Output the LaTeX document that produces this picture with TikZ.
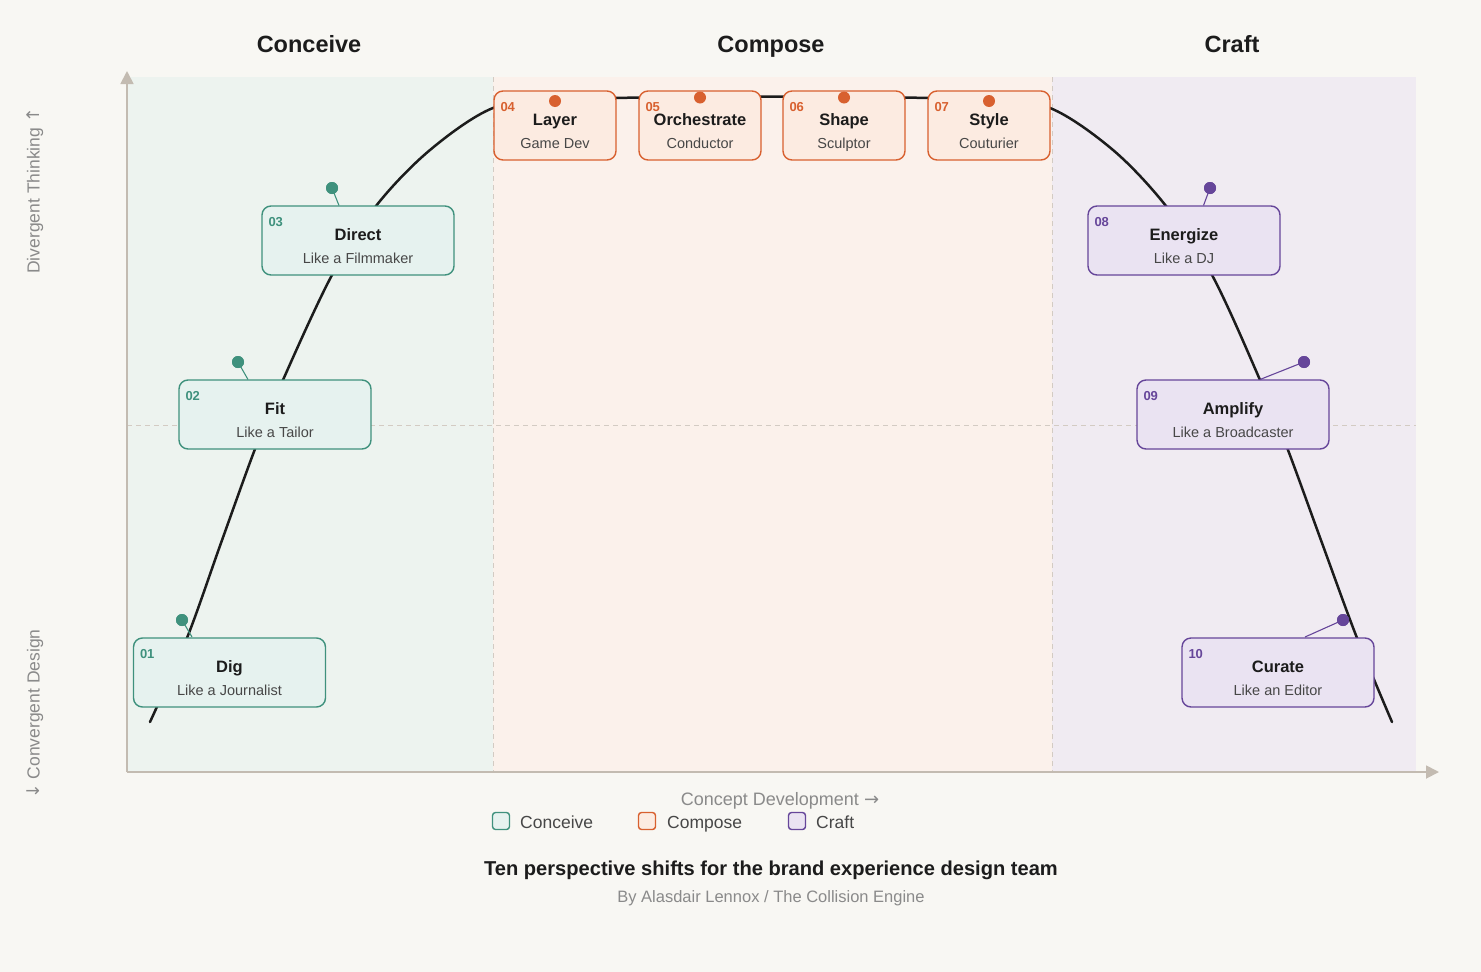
\documentclass[tikz,border=0pt]{standalone}
\usepackage{fontspec}
\setmainfont{Liberation Sans}
\newfontfamily\symfont{DejaVu Sans}
\usetikzlibrary{calc,arrows.meta}

\definecolor{bg}{HTML}{F8F7F3}
\definecolor{bandA}{HTML}{EDF3EF}
\definecolor{bandB}{HTML}{FBF1EB}
\definecolor{bandC}{HTML}{F0EBF2}
\definecolor{cA}{HTML}{3F917D}
\definecolor{cB}{HTML}{D8602F}
\definecolor{cC}{HTML}{66469A}
\definecolor{fA}{HTML}{E6F2EF}
\definecolor{fB}{HTML}{FCEBE1}
\definecolor{fC}{HTML}{EAE3F2}
\definecolor{axisc}{HTML}{C3BBB1}
\definecolor{gridc}{HTML}{D3CBC3}
\definecolor{ink}{HTML}{1C1C1C}
\definecolor{subc}{HTML}{474747}
\definecolor{muted}{HTML}{8A8A8A}

\newcommand\fs[1]{\fontsize{#1}{#1}\selectfont}

\tikzset{
  pbox/.style={draw=c#1, fill=f#1, rounded corners=9pt, line width=1.4pt,
    minimum height=69pt, inner sep=0pt},
  ptitle/.style={anchor=base, inner sep=0pt, text=ink, font=\fs{16.5}\bfseries},
  psub/.style={anchor=base, inner sep=0pt, text=subc, font=\fs{14.5}},
  pnum/.style={anchor=base west, inner sep=0pt, text=c#1, font=\fs{13}\bfseries},
  pdot/.style={circle, fill=c#1, minimum size=12pt, inner sep=0pt},
  pstem/.style={draw=c#1, line width=1.1pt},
  header/.style={anchor=base, inner sep=0pt, text=ink, font=\fs{23.5}\bfseries},
  axlabel/.style={inner sep=0pt, text=muted, font=\fs{17.5}},
  legbox/.style={draw=c#1, fill=f#1, rounded corners=3pt, line width=1.4pt,
    minimum size=17pt, inner sep=0pt},
  legtext/.style={anchor=base west, inner sep=0pt, text=subc, font=\fs{17.5}},
  griddash/.style={draw=gridc, line width=1pt, dash pattern=on 5pt off 4pt},
  axisline/.style={draw=axisc, line width=1.8pt},
  curveline/.style={draw=ink, line width=2.5pt, line cap=round}
}

% #1 id, #2 x, #3 y, #4 width, #5 family, #6 number, #7 title, #8 subtitle
\newcommand\persp[8]{%
  \node[pbox=#5, minimum width=#4pt] (b#1) at (#2,#3) {};
  \node[ptitle] (t#1) at ($(b#1.center)+(0,0)$) {#7};
  \node[psub] (s#1) at ($(b#1.center)+(0,22.5)$) {#8};
  \node[pnum=#5] (n#1) at ($(b#1.north west)+(7,21.5)$) {#6};
}

\begin{document}
\begin{tikzpicture}[x=1pt,y=-1pt]
\useasboundingbox[fill=bg] (0,0) rectangle (1481,972);

% bands
\fill[bandA] (127,77) rectangle (493,772);
\fill[bandB] (493,77) rectangle (1052,772);
\fill[bandC] (1052,77) rectangle (1416,772);

% grid dashes
\draw[griddash] (493,77) -- (493,772);
\draw[griddash] (1052,77) -- (1052,772);
\draw[griddash] (127,425) -- (1416,425);

% axes
\coordinate (origin) at (127,772);
\coordinate (ytip) at (127,71);
\coordinate (xtip) at (1439,772);
\draw[axisline, -{Triangle[length=13pt,width=13pt]}] (origin) -- (ytip);
\draw[axisline, -{Triangle[length=13pt,width=13pt]}] (origin) -- (xtip);

% curve
\draw[curveline] plot[smooth, tension=0.55] coordinates {
  (150,722) (187,638) (221,543) (255,449) (283,380) (332,275) (376,206)
  (430,150) (493,108) (555,101) (616,98) (700,97) (771,96.5) (844,97)
  (928,98) (989,101) (1050,108) (1113,150) (1166,206) (1212,275)
  (1260,380) (1288,450) (1322,543) (1357,638) (1392,722)};

% boxes
\persp{1}{229.5}{672.5}{192}{A}{01}{Dig}{Like a Journalist}
\persp{2}{275}{414.5}{192}{A}{02}{Fit}{Like a Tailor}
\persp{3}{358}{240.5}{192}{A}{03}{Direct}{Like a Filmmaker}
\persp{4}{555}{125.5}{122}{B}{04}{Layer}{Game Dev}
\persp{5}{700}{125.5}{122}{B}{05}{Orchestrate}{Conductor}
\persp{6}{844}{125.5}{122}{B}{06}{Shape}{Sculptor}
\persp{7}{989}{125.5}{122}{B}{07}{Style}{Couturier}
\persp{8}{1184}{240.5}{192}{C}{08}{Energize}{Like a DJ}
\persp{9}{1233}{414.5}{192}{C}{09}{Amplify}{Like a Broadcaster}
\persp{10}{1278}{672.5}{192}{C}{10}{Curate}{Like an Editor}

% dots and stems
\node[pdot=A] (d1) at (182,620) {};
\node[pdot=A] (d2) at (238,362) {};
\node[pdot=A] (d3) at (332,188) {};
\node[pdot=B] (d4) at (555,101) {};
\node[pdot=B] (d5) at (700,97.5) {};
\node[pdot=B] (d6) at (844,97.5) {};
\node[pdot=B] (d7) at (989,101) {};
\node[pdot=C] (d8) at (1210,188) {};
\node[pdot=C] (d9) at (1304,362) {};
\node[pdot=C] (d10) at (1343,620) {};
\coordinate (e1) at (192,637);
\coordinate (e2) at (248,379.5);
\coordinate (e3) at (339,205.5);
\coordinate (e8) at (1203.5,205.5);
\coordinate (e9) at (1260,379.5);
\coordinate (e10) at (1305,637);
\draw[pstem=A] (d1.center) -- (e1);
\draw[pstem=A] (d2.center) -- (e2);
\draw[pstem=A] (d3.center) -- (e3);
\draw[pstem=C] (d8.center) -- (e8);
\draw[pstem=C] (d9.center) -- (e9);
\draw[pstem=C] (d10.center) -- (e10);
\node[pdot=A] at (d1) {};
\node[pdot=A] at (d2) {};
\node[pdot=A] at (d3) {};
\node[pdot=C] at (d8) {};
\node[pdot=C] at (d9) {};
\node[pdot=C] at (d10) {};

% headers
\node[header] (hA) at (309,52.5) {Conceive};
\node[header] (hB) at (771,52.5) {Compose};
\node[header] (hC) at (1232,52.5) {Craft};

% axis labels
\node[axlabel, rotate=90] (ly1) at (35,191) {Divergent Thinking {\symfont ↑}};
\node[axlabel, rotate=90] (ly2) at (35,714) {{\symfont ↓} Convergent Design};
\node[axlabel, anchor=base, font=\fs{18}] (lx) at (780,805) {Concept Development {\symfont →}};

% legend
\node[legbox=A] (kA) at (501,821) {};
\node[legtext] (kAt) at (520,828) {Conceive};
\node[legbox=B] (kB) at (647,821) {};
\node[legtext] (kBt) at (667,828) {Compose};
\node[legbox=C] (kC) at (797,821) {};
\node[legtext] (kCt) at (816,828) {Craft};

% title
\node[anchor=base, inner sep=0pt, text=ink, font=\fs{20.1}\bfseries] (title) at (771,875)
  {Ten perspective shifts for the brand experience design team};
\node[anchor=base, inner sep=0pt, text=muted, font=\fs{16.5}] (byline) at (771,902)
  {By Alasdair Lennox / The Collision Engine};
\end{tikzpicture}
\end{document}
